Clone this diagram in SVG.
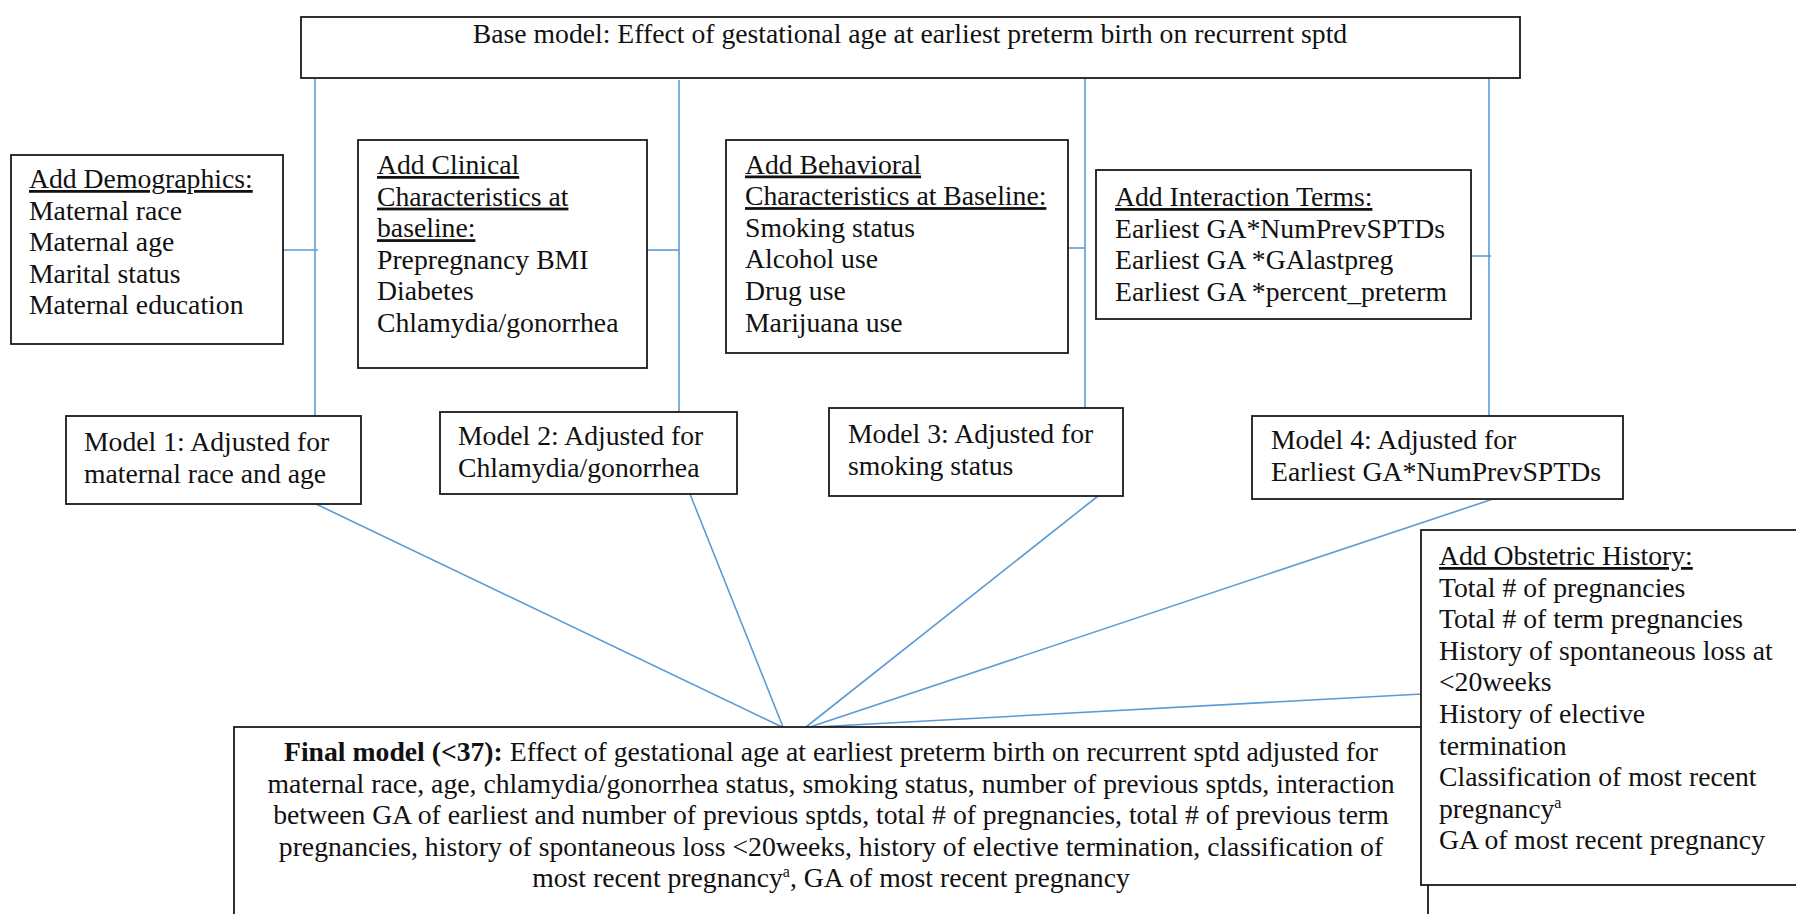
<svg xmlns="http://www.w3.org/2000/svg" width="1796" height="914" viewBox="0 0 1796 914">
<style>
.box{fill:#fff;stroke:#1a1a1a;stroke-width:1.8}
.t{font-family:"Liberation Serif","Times New Roman",serif;font-size:27.7px;fill:#111}
.c{text-anchor:middle}
.u{text-decoration:underline}
.b{font-weight:bold}
.con{stroke:#5b9bd5;stroke-width:1.6;fill:none}
.sup{font-size:16px}
</style>
<rect width="1796" height="914" fill="#fff"/>
<g id="connectors">
<line class="con" x1="315" y1="79" x2="315" y2="416"/>
<line class="con" x1="679" y1="80" x2="679" y2="412"/>
<line class="con" x1="1085" y1="78" x2="1085" y2="408"/>
<line class="con" x1="1489" y1="78" x2="1489" y2="416"/>
<line class="con" x1="268" y1="250" x2="318" y2="250"/>
<line class="con" x1="647" y1="250" x2="679" y2="250"/>
<line class="con" x1="1068" y1="248" x2="1085" y2="248"/>
<line class="con" x1="1471" y1="256" x2="1491" y2="256"/>
<line class="con" x1="316" y1="504" x2="782" y2="727"/>
<line class="con" x1="690" y1="494" x2="783" y2="727"/>
<line class="con" x1="1098" y1="496" x2="806" y2="727"/>
<line class="con" x1="1493" y1="499" x2="810" y2="727"/>
<line class="con" x1="1422" y1="694" x2="815" y2="727"/>
</g>
<g id="base">
<rect class="box" x="301" y="17" width="1219" height="61"/>
<text class="t c" x="910" y="43">Base model: Effect of gestational age at earliest preterm birth on recurrent sptd</text>
</g>
<g id="demographics">
<rect class="box" x="11" y="155" width="272" height="189"/>
<text class="t" x="29" y="188"><tspan class="u">Add Demographics:</tspan><tspan x="29" dy="31.6">Maternal race</tspan><tspan x="29" dy="31.6">Maternal age</tspan><tspan x="29" dy="31.6">Marital status</tspan><tspan x="29" dy="31.6">Maternal education</tspan></text>
</g>
<g id="clinical">
<rect class="box" x="358" y="140" width="289" height="228"/>
<text class="t" x="377" y="174"><tspan class="u">Add Clinical</tspan><tspan class="u" x="377" dy="31.6">Characteristics at</tspan><tspan class="u" x="377" dy="31.6">baseline:</tspan><tspan x="377" dy="31.6">Prepregnancy BMI</tspan><tspan x="377" dy="31.6">Diabetes</tspan><tspan x="377" dy="31.6">Chlamydia/gonorrhea</tspan></text>
</g>
<g id="behavioral">
<rect class="box" x="726" y="140" width="342" height="213"/>
<text class="t" x="745" y="173.5"><tspan class="u">Add Behavioral</tspan><tspan class="u" x="745" dy="31.6">Characteristics at Baseline:</tspan><tspan x="745" dy="31.6">Smoking status</tspan><tspan x="745" dy="31.6">Alcohol use</tspan><tspan x="745" dy="31.6">Drug use</tspan><tspan x="745" dy="31.6">Marijuana use</tspan></text>
</g>
<g id="interaction">
<rect class="box" x="1096" y="170" width="375" height="149"/>
<text class="t" x="1115" y="206"><tspan class="u">Add Interaction Terms:</tspan><tspan x="1115" dy="31.6">Earliest GA*NumPrevSPTDs</tspan><tspan x="1115" dy="31.6">Earliest GA *GAlastpreg</tspan><tspan x="1115" dy="31.6">Earliest GA *percent_preterm</tspan></text>
</g>
<g id="model1">
<rect class="box" x="66" y="416" width="295" height="88"/>
<text class="t" x="84" y="451"><tspan>Model 1: Adjusted for</tspan><tspan x="84" dy="32">maternal race and age</tspan></text>
</g>
<g id="model2">
<rect class="box" x="440" y="412" width="297" height="82"/>
<text class="t" x="458" y="445"><tspan>Model 2: Adjusted for</tspan><tspan x="458" dy="32">Chlamydia/gonorrhea</tspan></text>
</g>
<g id="model3">
<rect class="box" x="829" y="408" width="294" height="88"/>
<text class="t" x="848" y="443"><tspan>Model 3: Adjusted for</tspan><tspan x="848" dy="32">smoking status</tspan></text>
</g>
<g id="model4">
<rect class="box" x="1252" y="416" width="371" height="83"/>
<text class="t" x="1271" y="449"><tspan>Model 4: Adjusted for</tspan><tspan x="1271" dy="32">Earliest GA*NumPrevSPTDs</tspan></text>
</g>
<g id="final">
<rect class="box" x="234" y="727" width="1194" height="220"/>
<text class="t c" x="831" y="761"><tspan class="b">Final model (&lt;37):</tspan> Effect of gestational age at earliest preterm birth on recurrent sptd adjusted for</text>
<text class="t c" x="831" y="792.6">maternal race, age, chlamydia/gonorrhea status, smoking status, number of previous sptds, interaction</text>
<text class="t c" x="831" y="824.2">between GA of earliest and number of previous sptds, total # of pregnancies, total # of previous term</text>
<text class="t c" x="831" y="855.8">pregnancies, history of spontaneous loss &lt;20weeks, history of elective termination, classification of</text>
<text class="t c" x="831" y="887.4">most recent pregnancy<tspan class="sup" dy="-10">a</tspan><tspan dy="10">, GA of most recent pregnancy</tspan></text>
</g>
<g id="obstetric">
<rect class="box" x="1421" y="530" width="390" height="355"/>
<text class="t" x="1439" y="565"><tspan class="u">Add Obstetric History:</tspan><tspan x="1439" dy="31.6">Total # of pregnancies</tspan><tspan x="1439" dy="31.6">Total # of term pregnancies</tspan><tspan x="1439" dy="31.6">History of spontaneous loss at</tspan><tspan x="1439" dy="31.6">&lt;20weeks</tspan><tspan x="1439" dy="31.6">History of elective</tspan><tspan x="1439" dy="31.6">termination</tspan><tspan x="1439" dy="31.6">Classification of most recent</tspan><tspan x="1439" dy="31.6">pregnancy</tspan><tspan class="sup" dy="-10">a</tspan><tspan x="1439" dy="41.6">GA of most recent pregnancy</tspan></text>
</g>
</svg>
